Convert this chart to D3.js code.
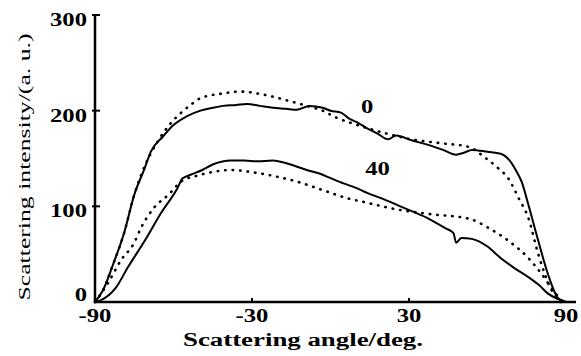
<!DOCTYPE html>
<html>
<head>
<meta charset="utf-8">
<script src="https://cdn.jsdelivr.net/npm/d3@7"></script>
<style>
  body { margin: 0; background: #fff; }
  .TickText { font-family: "Liberation Serif", serif; font-weight: bold; font-size: 19px; }
  .AxisTitle { font-family: "Liberation Serif", serif; }
</style>
</head>
<body>
<div id="chart"></div>
<script>
// ------ Data ---------------//
var angles0 = [-90, -87, -83, -79, -75, -71, -68.7, -64, -60, -55, -49.7, -45, -41, -36, -32, -27, -22, -17, -13, -8, -3, 0, 4, 7, 10, 13.7, 18, 22, 25, 31, 37.6, 43, 48, 51, 54, 60, 65, 69, 71, 73, 75.6, 79.4, 83, 87, 90];
var values0 = [0, 12, 40, 71, 112, 140, 157, 173, 185, 194, 200, 203, 205, 206, 207, 205, 203, 202, 201, 205, 203, 200, 198, 192, 188, 182, 176, 170, 174, 169, 164, 159, 154, 156, 159, 157, 155, 146, 137, 126, 102, 64, 30, 4, 0];

var anglesDot0 = [-90, -87, -83, -79, -75, -71, -66, -61, -57, -53, -49.7, -41, -34.5, -26, -15.6, -9, -3, 2, 8, 15, 23, 31, 42, 53, 59, 64, 68, 72, 75.6, 79.4, 84, 88];
var valuesDot0 = [0, 12, 40, 71, 112, 142, 168, 187, 198, 207, 213, 218, 220, 217, 210, 205, 200, 193, 187, 181, 175, 170, 166, 162, 151, 140, 129, 108, 88, 50, 15, 0];

var angles40 = [-90, -87.7, -82, -77.5, -71, -65, -58.5, -56.6, -53.5, -49, -44.8, -38, -33, -28, -22, -15.6, -9, -4, -0.4, 5, 10, 14, 19.8, 25, 31, 37.6, 44, 47, 48, 50, 54, 60, 65, 70, 75.6, 80, 83, 87, 90];
var values40 = [0, 2, 15, 36, 64, 92, 119, 129, 133, 138, 144, 148, 148, 147, 148, 144, 138, 134, 130, 124, 119, 114, 108, 102, 95, 87, 77, 72, 62, 67, 66, 58, 46, 36, 26, 17, 9, 3, 0];

var anglesDot40 = [-90, -85, -80, -75, -72.5, -67.6, -62, -57, -51, -44.8, -38, -30.8, -20.5, -13, -3, 7, 12, 19.8, 25, 37.6, 53, 60, 68, 75.6, 80.5, 86, 89];
var valuesDot40 = [0, 20, 44, 62, 77, 98, 112, 126, 132, 136, 138, 136, 131, 126, 117, 108, 105, 100, 97, 92, 87, 78, 64, 46, 30, 9, 0];

var xTicks = [-90, -30, 30, 90];
var yTicks = [0, 100, 200, 300];

var curveLabels = [
  {text: "0", angle: 14, value: 198},
  {text: "40", angle: 18, value: 133}
];

// ------ SVG ---------------//
{
var width = 581, height = 356;

var svg = d3.select("#chart").append("svg")
  .attr("width", width)
  .attr("height", height);

svg.append("rect").attr("width", width).attr("height", height).attr("fill", "#fff");
}

// ------ Scales ---------------//
{
var x = d3.scaleLinear()
  .domain([-90, 90])
  .range([95, 566]);

var y = d3.scaleLinear()
  .domain([0, 300])
  .range([302, 15]);
}

// ------ Axes ---------------//
{
// y axis line and ticks
svg.append("line")
  .attr("x1", x(-90)).attr("x2", x(-90))
  .attr("y1", y(300) - 1).attr("y2", y(0) + 1)
  .attr("stroke", "#000").attr("stroke-width", 2.5);

svg.selectAll(".yTick").data(yTicks.filter(d => d > 0)).enter()
  .append("line")
  .attr("class", "yTick")
  .attr("x1", x(-90) - 3).attr("x2", x(-90) + 5)
  .attr("y1", d => y(d)).attr("y2", d => y(d))
  .attr("stroke", "#000").attr("stroke-width", 2);

svg.selectAll(".yLab").data(yTicks).enter()
  .append("text")
  .attr("class", "yLab TickText")
  .attr("transform", d => `translate(${87},${d === 0 ? y(d) - 1 : y(d) + 11}) scale(1.3,1)`)
  .attr("text-anchor", "end")
  .text(d => d);

// x axis line and ticks
svg.append("line")
  .attr("x1", x(-90) - 1).attr("x2", 576)
  .attr("y1", y(0)).attr("y2", y(0))
  .attr("stroke", "#000").attr("stroke-width", 2.5);

svg.selectAll(".xTick").data(xTicks.filter(d => d > -90 && d < 90)).enter()
  .append("line")
  .attr("class", "xTick")
  .attr("x1", d => x(d)).attr("x2", d => x(d))
  .attr("y1", y(0) - 4).attr("y2", y(0))
  .attr("stroke", "#000").attr("stroke-width", 2);

svg.selectAll(".xLab").data(xTicks).enter()
  .append("text")
  .attr("class", "xLab TickText")
  .attr("transform", d => `translate(${x(d)},${y(0) + 20}) scale(1.3,1)`)
  .attr("text-anchor", "middle")
  .text(d => d);
}

// ------ Axis titles ---------------//
{
svg.append("text")
  .attr("class", "AxisTitle")
  .attr("x", 303).attr("y", 346)
  .attr("text-anchor", "middle")
  .attr("font-size", 18)
  .attr("font-weight", "bold")
  .attr("textLength", 240)
  .attr("lengthAdjust", "spacingAndGlyphs")
  .text("Scattering angle/deg.");

svg.append("text")
  .attr("class", "AxisTitle")
  .attr("transform", `translate(${30},${167}) rotate(-90)`)
  .attr("text-anchor", "middle")
  .attr("font-size", 17)
  .attr("textLength", 267)
  .attr("lengthAdjust", "spacingAndGlyphs")
  .text("Scattering intensity/(a. u.)");
}

// ------ Draw lines ---------------//
{
var line = d3.line()
  .x(d => x(d[0]))
  .y(d => y(d[1]))
  .curve(d3.curveMonotoneX);

var series = [
  {a: angles0, v: values0, dotted: false},
  {a: anglesDot0, v: valuesDot0, dotted: true},
  {a: angles40, v: values40, dotted: false},
  {a: anglesDot40, v: valuesDot40, dotted: true}
];

series.forEach(function(s) {
  var pts = s.a.map((a, i) => [a, s.v[i]]);
  svg.append("path")
    .datum(pts)
    .attr("d", line)
    .attr("fill", "none")
    .attr("stroke", "#000")
    .attr("stroke-width", s.dotted ? 2.6 : 2)
    .attr("stroke-linecap", s.dotted ? "round" : "butt")
    .attr("stroke-dasharray", s.dotted ? "0.5,7" : null);
});

svg.selectAll(".curveLab").data(curveLabels).enter()
  .append("text")
  .attr("class", "curveLab TickText")
  .attr("transform", d => `translate(${x(d.angle)},${y(d.value)}) scale(1.3,1)`)
  .attr("text-anchor", "middle")
  .text(d => d.text);
}
</script>
</body>
</html>
